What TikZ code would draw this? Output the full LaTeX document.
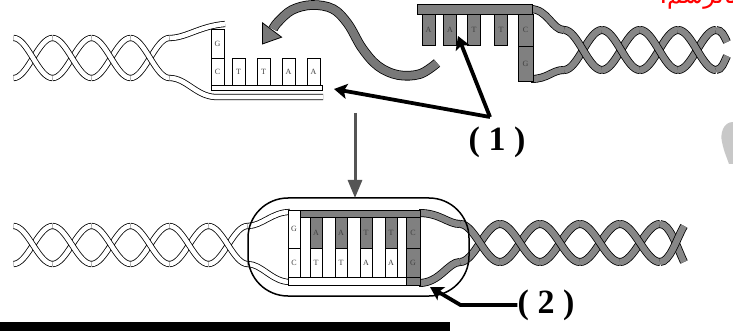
\documentclass[tikz,border=0pt]{standalone}
\usepackage{fontspec}
\setmainfont{Liberation Serif}
\newfontfamily\arabicfont[Script=Arabic]{DejaVu Sans}
\TeXXeTstate=1
\usetikzlibrary{arrows.meta}

\definecolor{helixgray}{RGB}{135,135,135}
\definecolor{boxgray}{RGB}{128,128,128}
\definecolor{swoopgray}{RGB}{120,120,120}
\definecolor{arrowgray}{RGB}{85,85,85}
\definecolor{blobgray}{RGB}{200,200,200}

\newcommand{\bpfont}{\fontsize{8}{8}\selectfont}

\tikzset{
  wrib/.style={draw=black, line width=0.8pt, double=white, double distance=4.6pt},
  grib/.style={draw=black, line width=0.8pt, double=helixgray, double distance=6.4pt},
  wbox/.style={draw=black, fill=white, line width=0.6pt, inner sep=0pt,
               font=\bpfont, text=black!75},
  gbox/.style={wbox, fill=boxgray},
  blkarrow/.style={line width=3.8pt, -{Stealth[length=13pt, width=15pt, inset=3pt]}},
  grayarrow/.style={draw=arrowgray, line width=3pt,
                    -{Triangle[length=18pt, width=14pt, fill=arrowgray]}},
  lbl/.style={font=\bfseries\fontsize{34}{34}\selectfont, inner sep=0pt},
  ringstyle/.style={draw=black, line width=1.5pt, rounded corners=40pt,
                    minimum width=221pt, minimum height=98pt, inner sep=0pt}
}

% one double helix: style, first crossing x, crossings, half period, axis y, amplitude
\newcommand{\dnahelix}[6]{%
  \foreach \k in {1,...,#3}{%
    \pgfmathsetmacro\xa{#2+(\k-1.5)*#4}%
    \pgfmathsetmacro\xb{#2+(\k-0.5)*#4}%
    \pgfmathsetmacro\fs{1-2*mod(\k,2)}%
    \draw[#1] plot[domain=\xa:\xb, samples=17, smooth, variable=\t]
      (\t, {#5+(\fs)*(#6)*sin((\t-#2)/#4*180)});
    \draw[#1] plot[domain=\xa:\xb, samples=17, smooth, variable=\t]
      (\t, {#5-(\fs)*(#6)*sin((\t-#2)/#4*180)});
  }%
}

\begin{document}
\begin{tikzpicture}[x=1pt, y=-1pt]
\useasboundingbox (0,0) rectangle (733,331);
\clip (0,0) rectangle (733,331);

% ---------- upper left: cut strand with sticky end ----------
\dnahelix{wrib}{33}{4}{39}{58}{20}
\draw[wrib] (169.5,38) .. controls (186,38) and (200,26) .. (225,24);
\draw[wrib] (169.5,78) .. controls (186,78) and (196,96) .. (215,97) -- (323,97);
\draw[wbox] (211,85) rectangle (322,90);
\node[wbox, minimum width=13pt, minimum height=29pt] (lg) at (217.5,43.5) {G};
\node[wbox, minimum width=13pt, minimum height=27pt] (lc) at (217.5,71.5) {C};
\foreach \xx/\bb/\nm in {238.5/T/l1, 263.5/T/l2, 288.5/A/l3, 313.5/A/l4}
  \node[wbox, minimum width=13pt, minimum height=27pt] (\nm) at (\xx,71.5) {\bb};

% ---------- upper right: cut strand with sticky end ----------
\dnahelix{grib}{583}{4}{38}{50}{20}
\draw[grib] (530,9) .. controls (548,9) and (552,30) .. (564,30);
\draw[grib] (531,79) .. controls (548,79) and (552,70) .. (564,70);
\draw[grib] (716,30) .. controls (722,30) and (724,36) .. (727,42);
\draw[grib] (716,70) .. controls (722,70) and (724,62) .. (727,56);
\draw[draw=black, fill=boxgray, line width=0.7pt] (417,4) rectangle (532,14);
\foreach \xx/\bb/\nm in {428.5/A/r1, 450/A/r2, 474/T/r3, 501/T/r4}
  \node[gbox, minimum width=13pt, minimum height=31pt] (\nm) at (\xx,29.5) {\bb};
\node[gbox, minimum width=15pt, minimum height=32pt] (rc) at (525.5,30) {C};
\node[gbox, minimum width=15pt, minimum height=35pt] (rg) at (525.5,63.5) {G};

% ---------- swooping arrow ----------
\draw[draw=black, line width=0.8pt, double=swoopgray, double distance=8pt]
  plot[smooth, tension=0.6] coordinates {(437,63) (420,74) (398,75) (378,66)
    (362,48) (348,24) (333,9) (312,5) (292,10) (278,22) (273,29)};
\draw[draw=black, fill=swoopgray, line width=0.8pt]
  (281.6,37.2) -- (262.4,44) -- (262.4,22.8) -- cycle;

% ---------- lower molecule: joined fragments ----------
\dnahelix{wrib}{33}{6}{39}{245}{19}
\draw[wrib] (247.5,226) .. controls (262,226) and (272,212) .. (290,212);
\draw[wrib] (247.5,264) .. controls (262,264) and (272,282) .. (290,282);
\dnahelix{grib}{480}{5}{40}{243}{19}
\draw[grib] (419,213) .. controls (440,213) and (448,224) .. (460,224);
\draw[grib] (419,283) .. controls (440,283) and (448,262) .. (460,262);
\draw[grib] (660,224) .. controls (670,224) and (676,245) .. (684,262);
\draw[grib] (660,262) .. controls (670,262) and (676,240) .. (684,226);

\draw[draw=black, fill=boxgray, line width=0.7pt] (300,210) rectangle (420,217);
\draw[wbox] (288,277) rectangle (406,285);
\draw[draw=black, fill=boxgray, line width=0.6pt] (406,277) rectangle (420,285);
\node[wbox, minimum width=12pt, minimum height=38pt] (bg1) at (294,229) {G};
\node[wbox, minimum width=12pt, minimum height=29pt] (bc1) at (294,262.5) {C};
\foreach \xx/\up/\lo/\nm in {316/A/T/b2, 341/A/T/b3, 366/T/A/b4, 391/T/A/b5}{
  \node[gbox, minimum width=12pt, minimum height=31pt] (\nm u) at (\xx,232.5) {\up};
  \node[wbox, minimum width=12pt, minimum height=29pt] (\nm l) at (\xx,262.5) {\lo};
}
\node[gbox, minimum width=14pt, minimum height=31pt] (bc6) at (413,232.5) {C};
\node[gbox, minimum width=14pt, minimum height=29pt] (bg6) at (413,262.5) {G};

\node[ringstyle] (ring) at (358.5,247) {};

% ---------- arrows and labels ----------
\coordinate (down1) at (355,113);
\coordinate (down2) at (355,198);
\draw[grayarrow] (down1) -- (down2);

\node[lbl] (lab1) at (497,142) {( 1 )};
\coordinate (v1) at (490,117);
\coordinate (tipL) at (334,89);
\coordinate (tipA) at (458,36);
\draw[blkarrow] (v1) -- (tipL);
\draw[blkarrow] (v1) -- (tipA);

\node[lbl] (lab2) at (546,305) {( 2 )};
\coordinate (tip2) at (430,287);
\draw[blkarrow] (lab2.west) -- ++(-57,0) -- (tip2);

% ---------- page furniture ----------
\fill[black] (0,322) rectangle (450,331);
\fill[blobgray] (733,122) .. controls (723,122) and (720,134) .. (722,142)
  .. controls (724,152) and (727,158) .. (729,164) -- (733,164) -- cycle;
\node[anchor=base east, text=red, inner sep=0pt,
      font=\arabicfont\fontsize{24}{24}\selectfont] (note) at (738,4)
  {\beginR بالرسم.\endR};
\end{tikzpicture}
\end{document}
